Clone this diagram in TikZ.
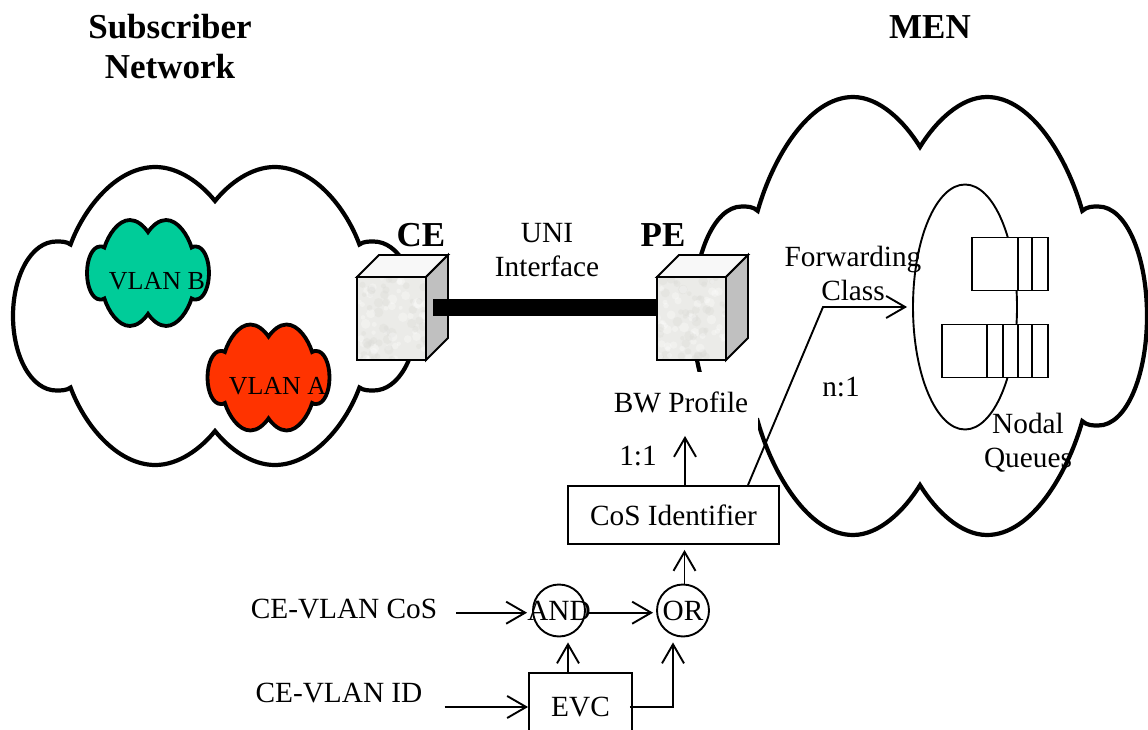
\documentclass[tikz,border=0pt]{standalone}
\usepackage{fontspec}
\setmainfont{Liberation Serif}
\usetikzlibrary{arrows.meta, shapes.geometric}

\definecolor{vlangreen}{HTML}{00CC99}
\definecolor{vlanred}{HTML}{FF3300}
\definecolor{boxfront}{HTML}{EBEBE8}
\definecolor{boxspot}{HTML}{DADAD6}
\definecolor{boxside}{HTML}{C0C0C0}
\definecolor{boxtop}{HTML}{F8F8F8}

% outline of a cloud, one unit from centre to the far edge
\newcommand{\cloudpath}{(0,.772) .. controls (.07,.89) and (.18,1) .. (.295,1) .. controls (.49,1) and (.65,.72) .. (.715,.48) .. controls (.735,.5) and (.76,.5) .. (.785,.5) .. controls (.91,.5) and (1,.27) .. (1,0) .. controls (1,-.27) and (.91,-.5) .. (.785,-.5) .. controls (.76,-.5) and (.735,-.5) .. (.715,-.48) .. controls (.65,-.72) and (.49,-1) .. (.295,-1) .. controls (.18,-1) and (.07,-.89) .. (0,-.772) .. controls (-.07,-.89) and (-.18,-1) .. (-.295,-1) .. controls (-.49,-1) and (-.65,-.72) .. (-.715,-.48) .. controls (-.735,-.5) and (-.76,-.5) .. (-.785,-.5) .. controls (-.91,-.5) and (-1,-.27) .. (-1,0) .. controls (-1,.27) and (-.91,.5) .. (-.785,.5) .. controls (-.76,.5) and (-.735,.5) .. (-.715,.48) .. controls (-.65,.72) and (-.49,1) .. (-.295,1) .. controls (-.18,1) and (-.07,.89) .. (0,.772) -- cycle}

\tikzset{
  every node/.style={inner sep=0pt, align=center, font=\fontsize{29.3}{34}\selectfont},
  title/.style={font=\fontsize{35}{40}\selectfont\bfseries},
  vlantext/.style={font=\fontsize{26}{30}\selectfont},
  bigcloud/.style={draw, fill=white, line width=4.2pt},
  smallcloud/.style={draw, line width=3.8pt},
  devicebox/.style={fill=boxfront, outer sep=0pt, minimum width=69pt, minimum height=83pt},
  idbox/.style={draw, fill=white},
  gate/.style={circle, draw, minimum size=52pt},
  queuebox/.style={draw, fill=white, minimum height=53pt}
}

\begin{document}
\begin{tikzpicture}[x=1pt, y=-1pt, line width=1.9pt, >={Straight Barb[length=19pt,width=22pt]}]
      \useasboundingbox (0,0) rectangle (1148,730);
      \pgfmathsetseed{42}

      % the two large clouds
      \draw[bigcloud, shift={(215,316)}, xscale=202, yscale=149] \cloudpath;
      \draw[bigcloud, shift={(920,316)}, xscale=227, yscale=219] \cloudpath;

      % VLANs inside the subscriber network
      \draw[smallcloud, fill=vlangreen, shift={(148,273)}, xscale=61, yscale=53] \cloudpath;
            \node[vlantext] (vlanb) at (157,281) {VLAN B};
      \draw[smallcloud, fill=vlanred, shift={(268.5,377.5)}, xscale=61, yscale=53] \cloudpath;
            \node[vlantext] (vlana) at (277.5,386) {VLAN A};

      \node[title] (subscriber) at (170,47) {Subscriber\\Network};
      \node[title] (men) at (930,27) {MEN};

      % BW Profile sits on a white patch that cuts the cloud
      \node[fill=white, minimum width=154pt, minimum height=60pt] (bwprofile) at (681,402) {BW Profile};

      % CE and PE boxes
      \node[devicebox] (ce) at (391.5,318.5) {};
      \node[devicebox] (pe) at (691.5,318.5) {};
      \foreach \devname in {ce,pe} {
            \begin{scope}
                  \clip (\devname.south west) rectangle (\devname.north east);
                  \foreach \spot in {1,...,90} {
                        \pgfmathsetmacro{\spotx}{rnd*69}
                        \pgfmathsetmacro{\spoty}{rnd*83}
                        \pgfmathsetmacro{\spotr}{2+rnd*3}
                        \pgfmathtruncatemacro{\spotpick}{mod(\spot,2)}
                        \ifnum\spotpick=0
                              \fill[boxspot, opacity=.35] ([shift={(\spotx pt,\spoty pt)}]\devname.south west) circle [radius=\spotr pt];
                        \else
                              \fill[white, opacity=.3] ([shift={(\spotx pt,\spoty pt)}]\devname.south west) circle [radius=\spotr pt];
                        \fi
                  }
            \end{scope}
            \draw (\devname.south west) rectangle (\devname.north east);
            \draw[fill=boxtop] (\devname.north west) -- ++(22,-22) -- ++(69,0) -- (\devname.north east) -- cycle;
            \draw[fill=boxside] (\devname.north east) -- ++(22,-22) -- ++(0,83) -- (\devname.south east) -- cycle;
      }
      \node[title] (celabel) at (421,235) {CE};
      \node[title] (pelabel) at (663,235) {PE};
      \draw[line width=17pt] ([shift={(7pt,11pt)}]ce.east) -- ([yshift=11pt]pe.west); % UNI link
      \node (uni) at (547,250) {UNI\\Interface};

      % nodal queues
      \node[ellipse, draw, minimum width=104pt, minimum height=245pt] (queueoval) at (965,307) {};
      \node[queuebox, minimum width=76pt] (queueone) at (1010,264) {};
      \node[queuebox, minimum width=106pt] (queuetwo) at (995,351) {};
      \foreach \x in {1018,1032} \draw (\x,237.5) -- (\x,290.5);
      \foreach \x in {987,1003,1018,1032} \draw (\x,324.5) -- (\x,377.5);
      \node (nodal) at (1028,443) {Nodal\\Queues};

      % selection boxes and gates
      \node[idbox, minimum width=211pt, minimum height=58pt] (cos) at (673.5,515) {CoS Identifier};
      \node[idbox, minimum width=103pt, minimum height=68pt] (evc) at (580.5,707) {EVC};
      \node[gate, label={center:AND}] (and) at (559,610.5) {};
      \node[gate, label={center:OR}] (or) at (683,610.5) {};
      \node (vlancos) at (344,609) {CE-VLAN CoS};
      \node (vlanid) at (339,693) {CE-VLAN ID};
      \coordinate (cosstart) at (456,612.7);
      \coordinate (idstart) at (444.5,707);
      \coordinate (fcbend) at (823,307);

      \node (fwdclass) at (853,273) {Forwarding\\Class};
      \node (none) at (841,387) {n:1};
      \node (oneone) at (638,456) {1:1};

      \draw[->] (cosstart) -- ([shift={(-5pt,-2.2pt)}]and.west);
      \draw[->] ([shift={(3pt,-2.2pt)}]and.east) -- ([shift={(-3pt,-2.2pt)}]or.west);
      \draw[->] (idstart) -- (evc.west);
      \draw[->] ([xshift=-12.5pt]evc.north) -- ([shift={(9pt,-5pt)}]and.south);
      \draw[->] ([xshift=-3pt]evc.east) -| ([shift={(-10pt,-5pt)}]or.south);
      \draw[->] ([xshift=1.5pt]or.north) -- ([shift={(11pt,-5pt)}]cos.south);
      \draw[->] ([xshift=11.5pt]cos.north) -- ([shift={(4pt,-3pt)}]bwprofile.south);
      \draw[->] ([xshift=74.5pt]cos.north) -- (fcbend) -- ([xshift=-5pt]queueoval.west);
\end{tikzpicture}
\end{document}
